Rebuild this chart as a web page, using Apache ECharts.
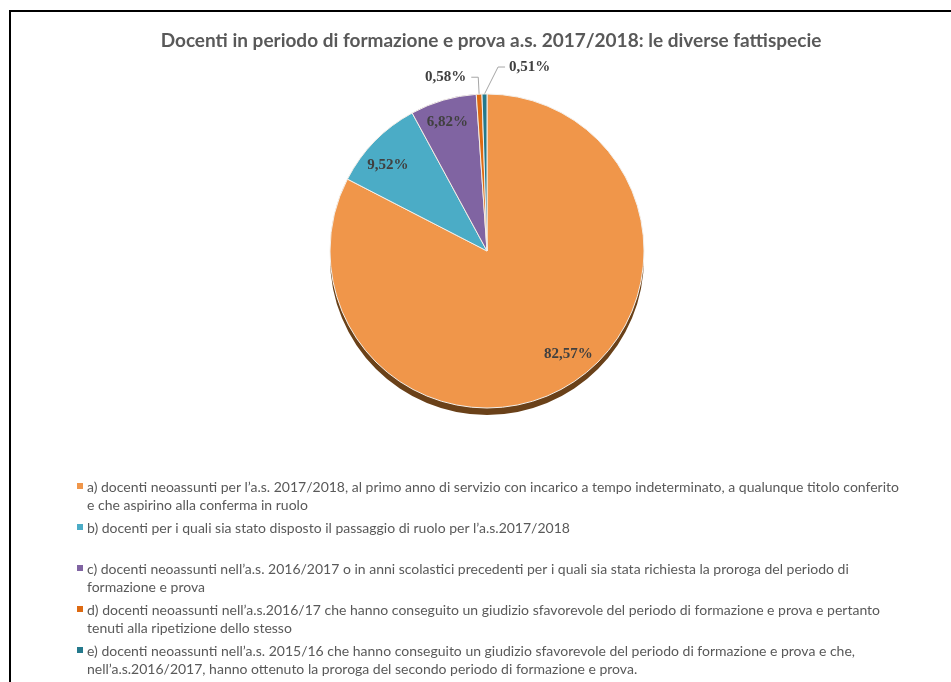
<!DOCTYPE html>
<html>
<head>
<meta charset="utf-8">
<script src="https://cdn.jsdelivr.net/npm/echarts@6/dist/echarts.min.js"></script>
<style>
html, body { margin: 0; padding: 0; background: #fff; }
#main { width: 951px; height: 682px; }
</style>
</head>
<body>
<div id="main"></div>
<script>
"use strict";
// dati
let titleText = 'Docenti in periodo di formazione e prova a.s. 2017/2018: le diverse fattispecie';
let categories = [
    'a) docenti neoassunti per l\u2019a.s. 2017/2018, al primo anno di servizio con incarico a tempo indeterminato, a qualunque titolo conferito\ne che aspirino alla conferma in ruolo',
    'b) docenti per i quali sia stato disposto il passaggio di ruolo per l\u2019a.s.2017/2018',
    'c) docenti neoassunti nell\u2019a.s. 2016/2017 o in anni scolastici precedenti per i quali sia stata richiesta la proroga del periodo di\nformazione e prova',
    'd) docenti neoassunti nell\u2019a.s.2016/17 che hanno conseguito un giudizio sfavorevole del periodo di formazione e prova e pertanto\ntenuti alla ripetizione dello stesso',
    'e) docenti neoassunti nell\u2019a.s. 2015/16 che hanno conseguito un giudizio sfavorevole del periodo di formazione e prova e che,\nnell\u2019a.s.2016/2017, hanno ottenuto la proroga del secondo periodo di formazione e prova.'
];
let values = [82.57, 9.52, 6.82, 0.58, 0.51];
let colors = ['#F0964A', '#4BACC6', '#8064A2', '#DD6A12', '#24798C'];

// posizioni e stili
let pieCenter = [487, 251];
let pieRadius = 157;
let labelShift = [[39, 34], [-41, -29], [-17, -51]];
let lineLength = [0, 0, 0, 17, 27];
let legendY = [487, 528, 569, 610, 651];

let myChart = echarts.init(document.getElementById('main'));

function fmt(v) {
    return v.toFixed(2).replace('.', ',') + '%';
}

let pieData = [];
for (let i = 0; i < values.length; i++) {
    let item = {
        name: categories[i],
        value: values[i],
        itemStyle: { color: colors[i] }
    };
    if (i >= 3) {
        item.label = { position: 'outside' };
        item.labelLine = { show: true, length: lineLength[i], length2: 7 };
    }
    pieData.push(item);
}

// legenda disegnata a mano per rispettare gli a capo dell'originale
let legendGraphics = [];
for (let i = 0; i < categories.length; i++) {
    legendGraphics.push({
        type: 'rect',
        shape: { x: 77, y: legendY[i] - 4, width: 6, height: 6 },
        style: { fill: colors[i] },
        silent: true
    });
    legendGraphics.push({
        type: 'text',
        x: 87,
        y: legendY[i] - 9,
        style: {
            text: categories[i],
            fill: '#595959',
            font: '14px Lato',
            lineHeight: 18,
            verticalAlign: 'top'
        },
        silent: true
    });
}

let option = {
    animation: false,
    backgroundColor: '#fff',
    title: {
        text: titleText,
        left: 486,
        top: 26,
        textAlign: 'center',
        textStyle: {
            fontFamily: 'Lato',
            fontSize: 19,
            fontWeight: 'bold',
            color: '#595959'
        }
    },
    graphic: [{
        type: 'rect',
        shape: { x: 10, y: 11, width: 1000, height: 1000 },
        style: { fill: 'none', stroke: '#000', lineWidth: 2 },
        silent: true
    }].concat(legendGraphics),
    series: [
        {
            // bordo "3D" sotto la torta
            type: 'pie',
            silent: true,
            z: 1,
            center: [pieCenter[0], pieCenter[1] + 7],
            radius: pieRadius,
            startAngle: 90,
            data: values.map(function (v) { return { value: v }; }),
            itemStyle: { color: '#6A4119', borderWidth: 0 },
            label: { show: false },
            labelLine: { show: false }
        },
        {
            type: 'pie',
            z: 2,
            center: pieCenter,
            radius: pieRadius,
            startAngle: 90,
            avoidLabelOverlap: false,
            data: pieData,
            itemStyle: { borderColor: '#f4efe9', borderWidth: 1 },
            label: {
                show: true,
                position: 'inside',
                formatter: function (p) { return fmt(p.value); },
                fontFamily: 'Liberation Serif',
                fontWeight: 'bold',
                fontSize: 15,
                color: '#404040'
            },
            labelLine: {
                lineStyle: { color: '#a6a6a6', width: 1 }
            },
            labelLayout: function (p) {
                let i = p.dataIndex;
                if (i < 3) {
                    return { dx: labelShift[i][0], dy: labelShift[i][1] };
                }
                if (i === 4 && p.labelLinePoints) {
                    let pts = p.labelLinePoints;
                    let len = Math.abs(pts[1][0] - pts[2][0]);
                    let b = [pts[1][0] + 14, pts[1][1]];
                    let c = [b[0] + len, b[1]];
                    return { x: c[0] + 4, align: 'left', labelLinePoints: [pts[0], b, c] };
                }
                return {};
            }
        }
    ]
};
myChart.setOption(option);
</script>
</body>
</html>
